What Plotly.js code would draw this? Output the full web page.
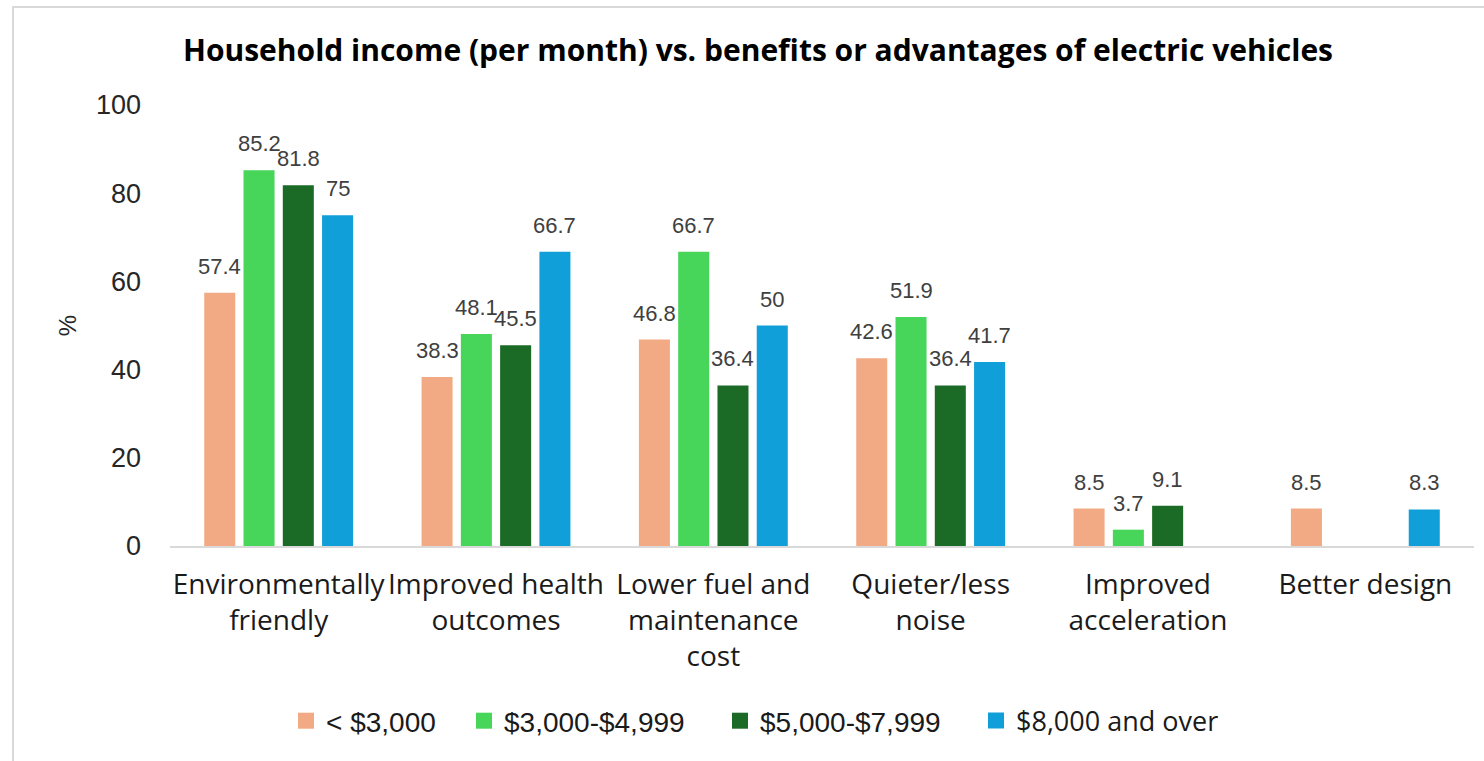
<!DOCTYPE html>
<html>
<head>
<meta charset="utf-8">
<script src="https://cdn.plot.ly/plotly-3.0.1.min.js"></script>
<style>
  html, body { margin: 0; padding: 0; background: #fff; }
  #wrap { position: relative; width: 1484px; height: 761px; overflow: hidden; }
  #chart { position: absolute; left: 0; top: 0; width: 1484px; height: 761px; }
  #frame { position: absolute; left: 12px; top: 6px; width: 1500px; height: 800px;
           border-top: 2px solid #d9d9d9; border-left: 2px solid #d9d9d9; pointer-events: none; }
</style>
</head>
<body>
<div id="wrap">
  <div id="chart"></div>
  <div id="frame"></div>
</div>
<script>
const categories = [
  "Environmentally<br>friendly",
  "Improved health<br>outcomes",
  "Lower fuel and<br>maintenance<br>cost",
  "Quieter/less<br>noise",
  "Improved<br>acceleration",
  "Better design"
];
const seriesNames = ["< $3,000", "$3,000-$4,999", "$5,000-$7,999", "$8,000 and over"];
const seriesColors = ["#F2AA84", "#47D55A", "#1B6B26", "#109FD8"];
const under3000   = [57.4, 38.3, 46.8, 42.6, 8.5, 8.5];
const from3000    = [85.2, 48.1, 66.7, 51.9, 3.7, null];
const from5000    = [81.8, 45.5, 36.4, 36.4, 9.1, null];
const over8000    = [75, 66.7, 50, 41.7, null, 8.3];
const yTicks = [0, 20, 40, 60, 80, 100];

const values = [under3000, from3000, from5000, over8000];

// geometry (styles, not data)
const W = 1484, H = 761;
const M = { l: 170, r: 10, t: 105, b: 215 };
const BARGAP = 0.277, BARGROUPGAP = 0.21;
const plotW = W - M.l - M.r;
const slot = plotW / categories.length;
const step = slot * (1 - BARGAP) / values.length;

const legendIds = ["legend", "legend2", "legend3", "legend4"];
const legendLeft = [286, 464, 720, 976];
const legendFonts = [
  { family: "Liberation Sans, Arial, sans-serif", size: 28, color: "#1a1a1a" },
  { family: "Liberation Sans, Arial, sans-serif", size: 28, color: "#1a1a1a" },
  { family: "Liberation Sans, Arial, sans-serif", size: 28, color: "#1a1a1a" },
  { family: "Open Sans, sans-serif", size: 27, color: "#1a1a1a" }
];

const traces = values.map((v, i) => ({
  type: "bar",
  name: seriesNames[i],
  x: categories,
  y: v,
  marker: { color: seriesColors[i] },
  showlegend: false,
  hoverinfo: "skip"
}));

// legend-only entries (square swatches)
seriesNames.forEach((name, i) => {
  traces.push({
    type: "scatter",
    mode: "markers",
    name: name,
    x: [null],
    y: [null],
    marker: { symbol: "square", size: 16, color: seriesColors[i], line: { width: 0 } },
    legend: legendIds[i],
    showlegend: true,
    hoverinfo: "skip"
  });
});

const annotations = [];
values.forEach((v, i) => {
  v.forEach((d, j) => {
    if (d === null) return;
    annotations.push({
      x: categories[j], xref: "x",
      y: d, yref: "y",
      text: String(d),
      showarrow: false,
      xanchor: "center", yanchor: "bottom",
      xshift: (i - (values.length - 1) / 2) * step,
      yshift: 12,
      font: { family: "Liberation Sans, Arial, sans-serif", size: 22, color: "#404040" }
    });
  });
});

const layout = {
  width: W,
  height: H,
  paper_bgcolor: "rgba(0,0,0,0)",
  plot_bgcolor: "rgba(0,0,0,0)",
  margin: M,
  barmode: "group",
  bargap: BARGAP,
  bargroupgap: BARGROUPGAP,
  title: {
    text: "<b>Household income (per month) vs. benefits or advantages of electric vehicles</b>",
    font: { family: "Open Sans, sans-serif", size: 30, color: "#000" },
    x: 758 / W, xref: "container", xanchor: "center",
    y: 1 - 50 / H, yref: "container", yanchor: "middle"
  },
  xaxis: {
    type: "category",
    categoryorder: "array",
    categoryarray: categories,
    showline: true, linecolor: "#d9d9d9", linewidth: 2,
    ticks: "", showgrid: false, zeroline: false,
    tickfont: { family: "Open Sans, sans-serif", size: 28, color: "#1a1a1a" },
    ticklabelstandoff: 12
  },
  yaxis: {
    range: [0, 100],
    tickvals: yTicks,
    showgrid: false, zeroline: false, showline: false, ticks: "",
    tickfont: { family: "Liberation Sans, Arial, sans-serif", size: 27, color: "#262626" },
    ticklabelstandoff: 28,
    title: { text: "%", font: { family: "Liberation Sans, Arial, sans-serif", size: 24, color: "#262626" }, standoff: 12 }
  },
  annotations: annotations,
  showlegend: true
};
legendIds.forEach((id, i) => {
  layout[id] = {
    orientation: "h",
    x: legendLeft[i] / W, xref: "container", xanchor: "left",
    y: 1 - 721 / H, yref: "container", yanchor: "middle",
    font: legendFonts[i],
    itemwidth: 30,
    bgcolor: "rgba(0,0,0,0)"
  };
});

Plotly.newPlot("chart", traces, layout, { displayModeBar: false, staticPlot: true });
</script>
</body>
</html>
